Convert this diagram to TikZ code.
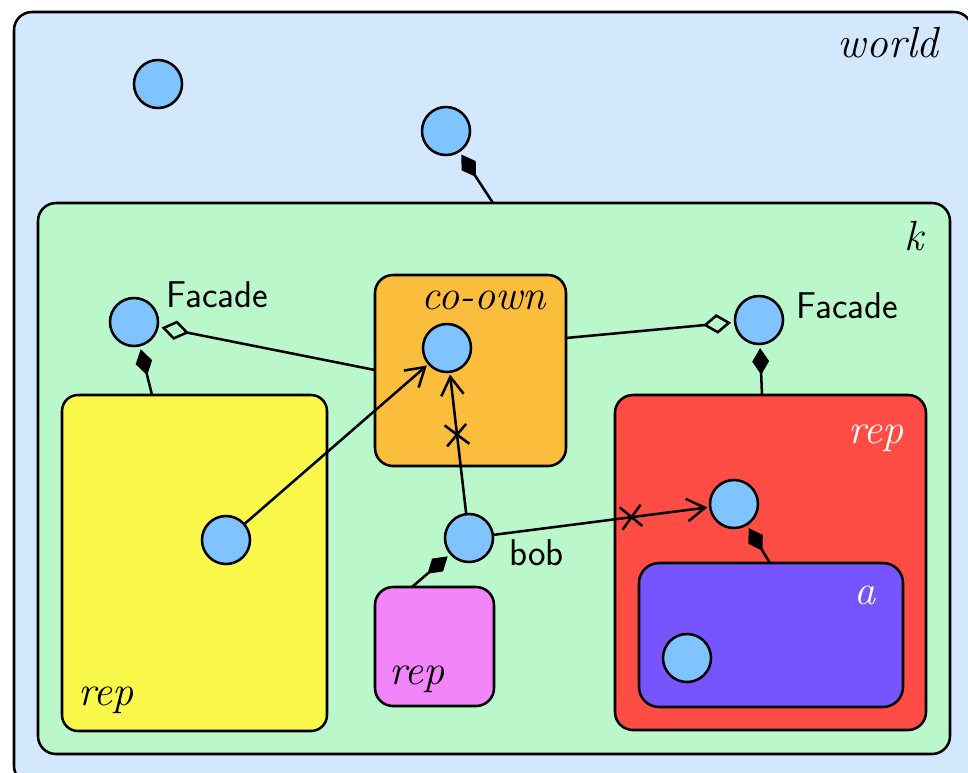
\documentclass[tikz,border=0pt]{standalone}
\usetikzlibrary{arrows.meta,decorations.markings,fit}
\definecolor{worldc}{RGB}{211,232,252}
\definecolor{kc}{RGB}{186,248,204}
\definecolor{yelc}{RGB}{250,248,74}
\definecolor{orc}{RGB}{251,189,60}
\definecolor{redc}{RGB}{255,77,69}
\definecolor{purc}{RGB}{118,85,255}
\definecolor{pinkc}{RGB}{242,133,249}
\definecolor{ballc}{RGB}{128,196,255}
\begin{document}
\begin{tikzpicture}[x=0.025cm,y=-0.025cm,line width=1.8pt,
  ball/.style={circle,draw,fill=ballc,minimum size=1.2cm,inner sep=0},
  region/.style={draw,rounded corners=0.45cm,inner sep=0},
  lab/.style={font=\fontsize{30}{34}\selectfont\itshape,inner sep=0},
  slab/.style={font=\fontsize{26.5}{31}\selectfont\sffamily,inner sep=0},
  own/.style={-{Diamond[length=19pt,width=12pt]},shorten >=2pt},
  facadelink/.style={-{Diamond[open,length=20pt,width=14pt]},shorten >=2pt},
  refer/.style={-{Straight Barb[length=13pt,width=16pt]},shorten >=1pt},
  crossed/.style={postaction={decorate},decoration={markings,
    mark=at position #1 with {\draw[-,line width=1.8pt] (-7.5pt,-8pt)--(7.5pt,8pt) (-7.5pt,8pt)--(7.5pt,-8pt);}}}
]
\path[use as bounding box] (0,0) rectangle (968,772);
\clip (0,0) rectangle (968,772);
% regions
\node[region,fill=worldc,fit={(14,12)(972,784)}] (world) {};
\node[lab,font=\fontsize{31}{35}\selectfont\itshape,anchor=base east] (worldlab) at (940,57) {world};
\node[region,fill=kc,fit={(38,203)(950,754)}] (k) {};
\node[lab,anchor=base east] (klab) at (925,250) {k};
\node[region,fill=yelc,rounded corners=0.4cm,fit={(62,395)(327,731)}] (yel) {};
\node[lab,anchor=base west] (yellab) at (77,705) {rep};
\node[region,fill=orc,fit={(375,275)(566,466)}] (coown) {};
\node[lab,anchor=base east] (coownlab) at (547,309) {co-own};
\node[region,fill=redc,fit={(615,395)(926,730)}] (red) {};
\node[lab,anchor=base east,text=white] (redlab) at (905,443) {rep};
\node[region,fill=purc,rounded corners=0.5cm,fit={(639,563)(903,707)}] (pur) {};
\node[lab,anchor=base east,text=white] (purlab) at (877,604) {a};
\node[region,fill=pinkc,fit={(375,587)(494,706)}] (pink) {};
\node[lab,anchor=base west] (pinklab) at (388,684) {rep};
% balls
\node[ball] (c1) at (158,84) {};
\node[ball] (c2) at (446,131) {};
\node[ball] (fl) at (134,322) {};
\node[slab,anchor=base west] (fllab) at (165,307) {Facade};
\node[ball] (fr) at (759,320) {};
\node[slab,anchor=base west] (frlab) at (795,318) {Facade};
\node[ball] (cc) at (447,348) {};
\node[ball] (cy) at (226,540) {};
\node[ball] (bob) at (469,538) {};
\node[slab,anchor=base west] (boblab) at (508,565) {bob};
\node[ball] (cr) at (734,504) {};
\node[ball] (ca) at (687,658) {};
% attachment points
\coordinate (ktop) at (493,203);
\coordinate (yeltop) at (152,395);
\coordinate (redtop) at (762,395);
\coordinate (purtop) at (770,563);
\coordinate (pinktop) at (412,587);
\coordinate (coleft) at (375,370);
\coordinate (coright) at (566,338);
% connectors
\draw[own] (ktop) -- (c2);
\draw[own] (yeltop) -- (fl);
\draw[own] (redtop) -- (fr);
\draw[own] (purtop) -- (cr);
\draw[own] (pinktop) -- (bob);
\draw[facadelink] (coleft) -- (fl);
\draw[facadelink] (coright) -- (fr);
\draw[refer] (cy) -- (cc);
\draw[refer,crossed=0.56] (bob) -- (cc);
\draw[refer,crossed=0.64] (bob) -- (cr);
\end{tikzpicture}
\end{document}
